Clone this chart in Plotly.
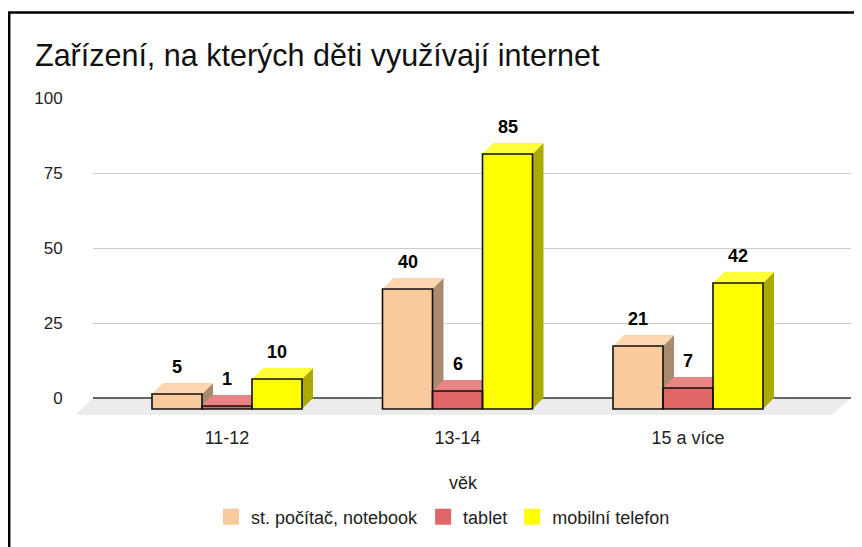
import plotly.graph_objects as go

categories = ["11-12", "13-14", "15 a více"]
series_names = ["st. počítač, notebook", "tablet", "mobilní telefon"]
pc_values = [5, 40, 21]
tablet_values = [1, 6, 7]
phone_values = [10, 85, 42]
y_ticks = [0, 25, 50, 75, 100]

front_colors = ["#f9cb9c", "#e06666", "#ffff00"]
top_colors = ["#fbd6b1", "#e98585", "#ffff3a"]
side_colors = ["#a88b6e", "#9c4747", "#aaaa00"]

FONT = "Liberation Sans, Arial, sans-serif"

# geometry (target screenshot pixels; page body has an 8px margin)
OFF = 8
W, H = 862 - OFF, 547 - OFF
L, R, T, B = 93, 851, 98, 415          # plot area in screenshot pixels
px_per_x = 230.5
px_per_y = 3.0
x_range = [(L - 238) / px_per_x, (R - 238) / px_per_x]
y_range = [-(B - 398) / px_per_y, (398 - T) / px_per_y]
DX = 11 / px_per_x
DY = 11 / px_per_y
BW = 50 / px_per_x


def px_x(p):
    return (p - L) / (R - L)


def px_y(p):
    return (B - p) / (B - T)


all_values = [pc_values, tablet_values, phone_values]
cat_pos = list(range(len(categories)))

fig = go.Figure()
shapes = []

# floor
shapes.append(dict(type="path", xref="paper", yref="y",
                   path=f"M {px_x(93)} 0 L {px_x(851)} 0 L {px_x(832)} {y_range[0]} L {px_x(75)} {y_range[0]} Z",
                   fillcolor="#ececec", line=dict(width=0), layer="below"))

for c in cat_pos:
    for i, vals in enumerate(all_values):
        v = vals[c]
        xb_l = c - 1.5 * BW + i * BW  # back-plane left
        xf_l = xb_l - DX
        xf_r = xf_l + BW
        xb_r = xb_l + BW
        # side face
        shapes.append(dict(type="path", xref="x", yref="y",
                           path=f"M {xf_r} {v - DY} L {xb_r} {v} L {xb_r} 0 L {xf_r} {-DY} Z",
                           fillcolor=side_colors[i], line=dict(width=0), layer="between"))
        # top face
        shapes.append(dict(type="path", xref="x", yref="y",
                           path=f"M {xf_l} {v - DY} L {xf_r} {v - DY} L {xb_r} {v} L {xb_l} {v} Z",
                           fillcolor=top_colors[i], line=dict(width=0), layer="between"))
        # front outline
        shapes.append(dict(type="rect", xref="x", yref="y",
                           x0=xf_l, x1=xf_r, y0=-DY, y1=v - DY,
                           line=dict(color="#111111", width=1.6), layer="above"))

for i, (name, vals) in enumerate(zip(series_names, all_values)):
    xs = [c - 1.5 * BW + (i + 0.5) * BW - DX for c in cat_pos]
    fig.add_trace(go.Bar(
        x=xs, y=vals, base=-DY, width=BW, name=name,
        marker=dict(color=front_colors[i], line=dict(width=0)),
        hoverinfo="skip", showlegend=False, legendgroup=name,
    ))
    # legend entry with a larger square swatch
    fig.add_trace(go.Scatter(
        x=[None], y=[None], mode="markers", name=name, legendgroup=name,
        marker=dict(symbol="square", size=16, color=front_colors[i], line=dict(width=0)),
        hoverinfo="skip",
    ))

annotations = []
for i, vals in enumerate(all_values):
    for c in cat_pos:
        xc = c - 1.5 * BW + (i + 0.5) * BW - DX
        annotations.append(dict(x=xc, y=vals[c], xref="x", yref="y", text=f"<b>{vals[c]}</b>",
                                showarrow=False, yanchor="middle", yshift=16,
                                font=dict(family=FONT, size=18, color="#000000")))

annotations.append(dict(x=px_x(463), y=px_y(483), xref="paper", yref="paper",
                        text="věk", showarrow=False, xanchor="center", yanchor="middle",
                        font=dict(family=FONT, size=18, color="#222222")))

# outer frame
shapes.append(dict(type="rect", xref="paper", yref="paper",
                   x0=px_x(9.2), x1=px_x(900),
                   y0=px_y(600), y1=px_y(12.5),
                   line=dict(color="#000000", width=2.5), fillcolor="rgba(0,0,0,0)", layer="above"))

fig.update_layout(
    width=W, height=H,
    margin=dict(l=L - OFF, r=W - (R - OFF), t=T - OFF, b=H - (B - OFF), pad=0),
    paper_bgcolor="#ffffff", plot_bgcolor="rgba(0,0,0,0)",
    barmode="overlay",
    title=dict(text="Zařízení, na kterých děti využívají internet", x=(35 - OFF) / W, xanchor="left",
               y=1 - (55 - OFF) / H, yanchor="middle",
               font=dict(family=FONT, size=30.5, color="#111111")),
    xaxis=dict(range=x_range, tickmode="array",
               tickvals=[c - DX for c in cat_pos], ticktext=categories,
               showgrid=False, zeroline=False, showline=False,
               ticks="outside", ticklen=6, tickcolor="rgba(0,0,0,0)",
               tickfont=dict(family=FONT, size=18, color="#222222")),
    yaxis=dict(range=y_range, tickmode="array", tickvals=y_ticks,
               showgrid=True, gridcolor="#cccccc", gridwidth=1,
               zeroline=True, zerolinecolor="#666666", zerolinewidth=2,
               showline=False, ticks="outside", ticklen=26, tickcolor="rgba(0,0,0,0)",
               tickfont=dict(family=FONT, size=17, color="#222222")),
    legend=dict(orientation="h", x=px_x(443), xanchor="center",
                y=px_y(517), yanchor="middle",
                font=dict(family=FONT, size=18, color="#222222"),
                traceorder="normal", itemsizing="trace"),
    shapes=shapes,
    annotations=annotations,
)

fig.write_html("out.html")
